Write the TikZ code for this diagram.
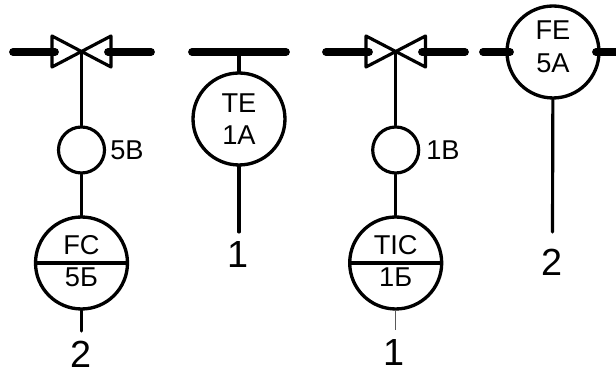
\documentclass[tikz,border=0pt]{standalone}
\usepackage{fontspec}
\setmainfont{Liberation Sans}
\definecolor{thingray}{rgb}{0.35,0.35,0.35}
\tikzset{
  sigline/.style={line width=1.8pt, line cap=round},
  pipeline/.style={line width=4.4pt, line cap=round},
  bigcirc/.style={circle, draw, line width=1.9pt, minimum size=1.84cm, inner sep=0pt, align=center,
    font=\fontsize{15.5}{17.5}\selectfont},
  smallcirc/.style={circle, draw, line width=1.8pt, minimum size=0.92cm, inner sep=0pt},
  tag/.style={inner sep=0pt, font=\fontsize{15.5}{17.5}\selectfont},
  num/.style={inner sep=0pt, font=\fontsize{21.5}{26}\selectfont}
}

\begin{document}
\begin{tikzpicture}[x=0.02cm,y=-0.02cm]
\useasboundingbox (0,0) rectangle (616,374);

% first valve loop
\coordinate (vlvA) at (81.5,52);
\draw[pipeline] (13,52) coordinate (pipeAa) -- (55,52) coordinate (pipeAb);
\draw[pipeline] (108,52) coordinate (pipeAc) -- (151,52) coordinate (pipeAd);
\draw[sigline, line join=round] (52,36)--(111,67)--(111,36)--(52,67)--cycle;
\node[smallcirc] (cirA) at (81.5,150) {};
\node[tag, anchor=west] (tagA) at (110,150) {5B};
\node[bigcirc] (ctlA) at (81.5,263) {};
\draw[line width=1.8pt] (ctlA.west)--(ctlA.east);
\node[tag] (ctlAup) at (81.5,245) {FC};
\node[tag] (ctlAlo) at (81.5,277) {5Б};
\coordinate (endA) at (81.5,331);
\node[num] (numA) at (81,354) {2};
\draw[sigline] (vlvA)--(cirA);
\draw[sigline] (cirA)--(ctlA);
\draw[sigline] (ctlA)--(endA);

% temperature element
\draw[pipeline] (192,52) coordinate (pipeB) -- (286,52) coordinate (pipeBb);
\coordinate (tapB) at (239,52);
\node[bigcirc] (elemB) at (239,119) {TE\\[0.6pt]1A};
\coordinate (endB) at (239,232);
\node[num] (numB) at (238,255) {1};
\draw[sigline] (tapB)--(elemB);
\draw[sigline] (elemB)--(endB);

% second valve loop
\coordinate (vlvC) at (395.7,52);
\draw[pipeline] (326,52) coordinate (pipeCa) -- (369,52) coordinate (pipeCb);
\draw[pipeline] (422,52) coordinate (pipeCc) -- (465,52) coordinate (pipeCd);
\draw[sigline, line join=round] (366,36)--(425.5,67)--(425.5,36)--(366,67)--cycle;
\node[smallcirc] (cirC) at (395.7,150) {};
\node[tag, anchor=west] (tagC) at (426,150) {1B};
\node[bigcirc] (ctlC) at (395.7,263) {};
\draw[line width=1.8pt] (ctlC.west)--(ctlC.east);
\node[tag] (ctlCup) at (395.7,245) {TIC};
\node[tag] (ctlClo) at (395.7,277) {1Б};
\coordinate (endC) at (395.7,330);
\node[num] (numC) at (394,353) {1};
\draw[sigline] (vlvC)--(cirC);
\draw[sigline] (cirC)--(ctlC);
\draw[thingray, line width=0.5pt] (ctlC)--(endC);

% flow element
\node[bigcirc, anchor=center] (elemD) at (553,52) {};
\node[tag] (elemDup) at (553,30) {FE};
\node[tag] (elemDlo) at (553,63) {5A};
\coordinate (pipeDa) at (483,52);
\coordinate (pipeDb) at (625,52);
\coordinate (endD) at (552.5,232);
\node[num] (numD) at (552,262) {2};
\draw[pipeline] (pipeDa)--(510,52);
\draw[pipeline] (596,52)--(pipeDb);
\draw[sigline] (elemD)--(endD);

\end{tikzpicture}
\end{document}
